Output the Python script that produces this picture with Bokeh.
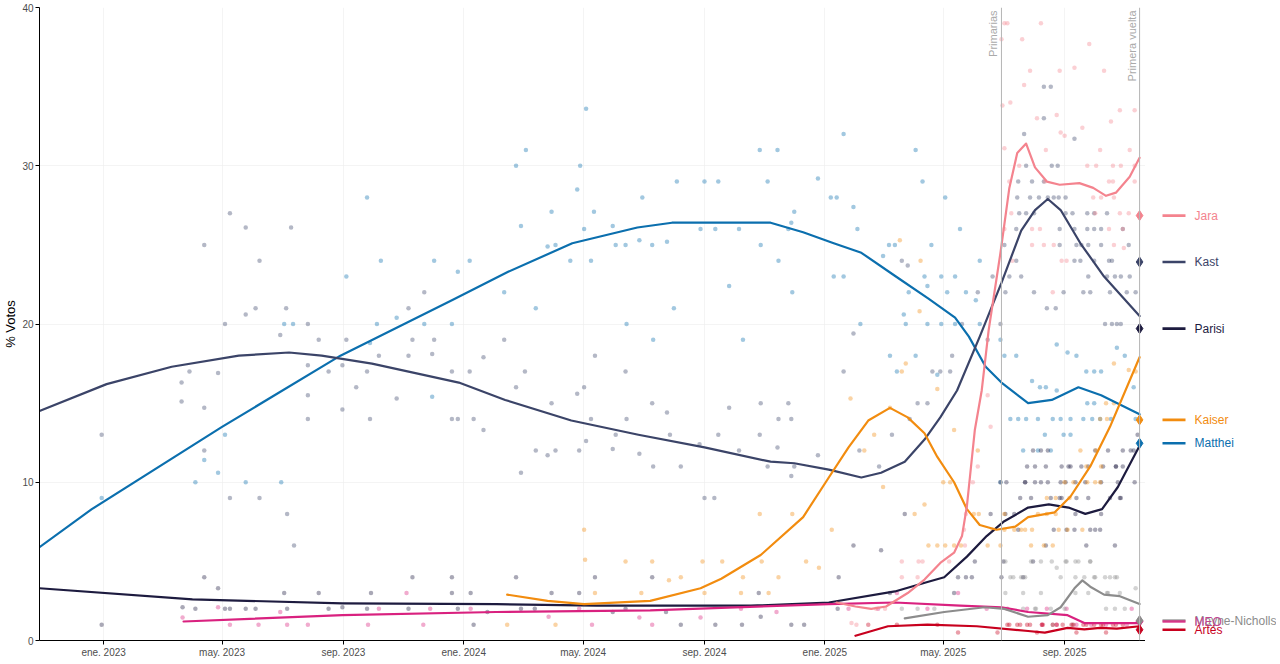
import pandas as pd
from math import pi
from bokeh.plotting import figure
from bokeh.layouts import row
from bokeh.models import Range1d, FixedTicker, Span, Label, ColumnDataSource
from bokeh.embed import file_html
from bokeh.resources import INLINE
from bokeh.core.properties import value

# ---------------- data ----------------
candidates = ["Jara", "Kast", "Parisi", "Kaiser", "Matthei", "Mayne-Nicholls", "MEO", "Artés"]
colors = {"Jara": "#F4838E", "Kast": "#3B4468", "Parisi": "#1D1B3F", "Kaiser": "#F28C0F",
          "Matthei": "#0B6FAE", "MEO": "#D9217F", "Mayne-Nicholls": "#8C8C8C", "Artés": "#C8001E"}
label_colors = {"Jara": "#F4838E", "Kast": "#3B4468", "Parisi": "#1D1B3F", "Kaiser": "#F28C0F",
                "Matthei": "#0B6FAE", "MEO": "#C0468F", "Mayne-Nicholls": "#8C8C8C", "Artés": "#C8001E"}
election_date = "2025-11-16"
primaries_date = "2025-06-29"
results = {"Jara": 26.85, "Kast": 23.92, "Parisi": 19.71, "Kaiser": 13.94, "Matthei": 12.46,
           "Mayne-Nicholls": 1.26, "MEO": 1.20, "Artés": 0.68}

tick_dates = ["2023-01-01", "2023-05-01", "2023-09-01", "2024-01-01", "2024-05-01",
              "2024-09-01", "2025-01-01", "2025-05-01", "2025-09-01"]
tick_labels = ["ene. 2023", "may. 2023", "sep. 2023", "ene. 2024", "may. 2024",
               "sep. 2024", "ene. 2025", "may. 2025", "sep. 2025"]
y_ticks = [0, 10, 20, 30, 40]

# trend lines
matthei_trend_dates = ["2022-10-28", "2022-12-20", "2023-05-01", "2023-08-29", "2023-12-20", "2024-02-15",
                       "2024-04-20", "2024-06-25", "2024-07-30", "2024-10-05", "2024-11-07", "2024-12-10",
                       "2025-01-10", "2025-02-07", "2025-03-14", "2025-04-16", "2025-05-13", "2025-05-27",
                       "2025-06-13", "2025-06-29", "2025-07-26", "2025-08-19", "2025-09-15", "2025-10-08",
                       "2025-11-16"]
matthei_trend_vals = [5.9, 8.3, 13.5, 18.0, 21.5, 23.3, 25.1, 26.1, 26.4, 26.4, 26.4, 25.8, 25.1, 24.5, 23.0,
                      21.6, 20.4, 19.2, 17.3, 16.3, 15.0, 15.2, 16.0, 15.5, 14.3]
kast_trend_dates = ["2022-10-28", "2023-01-04", "2023-03-11", "2023-05-18", "2023-07-08", "2023-08-10",
                    "2023-09-30", "2023-11-20", "2023-12-27", "2024-02-12", "2024-04-19", "2024-06-26",
                    "2024-09-01", "2024-11-07", "2024-12-01", "2025-01-05", "2025-02-07", "2025-02-27",
                    "2025-03-23", "2025-04-12", "2025-04-28", "2025-05-15", "2025-06-07", "2025-06-29",
                    "2025-07-19", "2025-08-02", "2025-08-15", "2025-08-28", "2025-09-17", "2025-10-11",
                    "2025-11-16"]
kast_trend_vals = [14.5, 16.2, 17.3, 18.0, 18.2, 18.0, 17.5, 16.8, 16.3, 15.2, 13.9, 13.0, 12.2, 11.3, 11.2,
                   10.8, 10.3, 10.6, 11.3, 12.7, 14.1, 15.8, 19.2, 22.6, 25.9, 27.2, 27.9, 27.2, 25.1, 23.0,
                   20.5]
parisi_trend_dates = ["2022-10-28", "2023-04-01", "2023-08-31", "2024-02-03", "2024-05-15", "2024-10-18",
                      "2025-01-05", "2025-03-13", "2025-04-15", "2025-05-02", "2025-05-25", "2025-06-14",
                      "2025-07-01", "2025-07-26", "2025-08-16", "2025-09-05", "2025-09-22", "2025-10-09",
                      "2025-10-25", "2025-11-16"]
parisi_trend_vals = [3.3, 2.6, 2.35, 2.3, 2.2, 2.2, 2.4, 3.1, 3.7, 4.0, 5.3, 6.6, 7.5, 8.4, 8.6, 8.4, 8.0,
                     8.3, 9.7, 12.3]
kaiser_trend_dates = ["2024-02-14", "2024-03-26", "2024-05-02", "2024-07-08", "2024-08-28", "2024-09-18",
                      "2024-10-28", "2024-12-10", "2025-01-05", "2025-01-25", "2025-02-14", "2025-03-08",
                      "2025-03-26", "2025-04-12", "2025-04-25", "2025-05-12", "2025-05-25", "2025-06-07",
                      "2025-06-24", "2025-07-13", "2025-07-26", "2025-08-22", "2025-09-07", "2025-09-27",
                      "2025-10-17", "2025-11-16"]
kaiser_trend_vals = [2.9, 2.5, 2.3, 2.5, 3.3, 3.9, 5.4, 7.8, 10.3, 12.2, 13.9, 14.7, 14.1, 13.1, 11.6, 10.0,
                     8.3, 7.3, 7.0, 7.2, 7.8, 8.1, 9.1, 11.0, 13.5, 17.9]
jara_trend_dates = ["2025-01-13", "2025-02-01", "2025-02-17", "2025-03-04", "2025-03-26", "2025-04-12",
                    "2025-04-28", "2025-05-12", "2025-05-20", "2025-05-25", "2025-05-28", "2025-06-02",
                    "2025-06-09", "2025-06-16", "2025-06-28", "2025-07-07", "2025-07-15", "2025-07-24",
                    "2025-08-02", "2025-08-14", "2025-08-27", "2025-09-16", "2025-09-30", "2025-10-13",
                    "2025-10-23", "2025-11-06", "2025-11-16"]
jara_trend_vals = [2.4, 2.15, 2.0, 2.15, 3.0, 3.85, 4.9, 5.55, 6.6, 8.5, 10.3, 13.3, 15.8, 19.6, 24.5, 28.6,
                   30.8, 31.4, 29.9, 29.0, 28.8, 28.9, 28.6, 28.1, 28.3, 29.3, 30.5]
meo_trend_dates = ["2023-03-23", "2023-08-31", "2024-02-03", "2024-07-08", "2025-01-05", "2025-03-13",
                   "2025-05-18", "2025-06-29", "2025-07-26", "2025-09-04", "2025-09-21", "2025-10-24",
                   "2025-11-16"]
meo_trend_vals = [1.2, 1.6, 1.8, 1.9, 2.3, 2.4, 2.2, 2.1, 1.8, 1.6, 1.1, 1.1, 1.1]
mayne_trend_dates = ["2025-03-23", "2025-05-02", "2025-06-12", "2025-07-02", "2025-07-26", "2025-08-15",
                     "2025-08-28", "2025-09-11", "2025-09-19", "2025-09-27", "2025-10-11", "2025-10-27",
                     "2025-11-16"]
mayne_trend_vals = [1.4, 1.8, 2.1, 2.0, 1.5, 1.6, 2.1, 3.3, 3.8, 3.4, 2.9, 2.8, 2.3]
artes_trend_dates = ["2025-02-01", "2025-03-06", "2025-04-15", "2025-06-04", "2025-07-26", "2025-08-12",
                     "2025-09-04", "2025-09-21", "2025-10-07", "2025-10-24", "2025-11-16"]
artes_trend_vals = [0.3, 0.9, 1.0, 0.9, 0.6, 0.5, 0.8, 0.7, 0.8, 0.75, 0.9]

# individual polls
matthei_poll_dates = ["2022-12-30", "2023-04-04", "2023-04-13", "2023-04-27", "2023-05-04", "2023-05-25",
    "2023-06-30", "2023-07-03", "2023-07-12", "2023-09-04", "2023-09-25", "2023-09-28", "2023-10-05",
    "2023-10-09", "2023-10-25", "2023-11-22", "2023-11-30", "2023-12-02", "2023-12-20", "2023-12-26",
    "2024-01-07", "2024-02-11", "2024-02-23", "2024-02-28", "2024-03-04", "2024-03-14", "2024-03-26",
    "2024-03-30", "2024-04-03", "2024-04-18", "2024-04-25", "2024-04-28", "2024-05-02", "2024-05-04",
    "2024-05-09", "2024-05-12", "2024-05-31", "2024-06-03", "2024-06-13", "2024-06-14", "2024-06-27",
    "2024-06-30", "2024-07-10", "2024-07-11", "2024-07-25", "2024-08-01", "2024-08-04", "2024-08-28",
    "2024-09-01", "2024-09-12", "2024-09-15", "2024-09-26", "2024-10-06", "2024-10-10", "2024-10-27",
    "2024-10-28", "2024-11-04", "2024-11-14", "2024-11-15", "2024-11-25", "2024-11-28", "2024-11-29",
    "2024-12-01", "2024-12-25", "2025-01-07", "2025-01-10", "2025-01-13", "2025-01-20", "2025-01-20",
    "2025-01-30", "2025-02-03", "2025-02-06", "2025-03-01", "2025-03-07", "2025-03-08", "2025-03-13",
    "2025-03-15", "2025-03-22", "2025-03-24", "2025-03-27", "2025-04-03", "2025-04-03", "2025-04-10",
    "2025-04-12", "2025-04-15", "2025-04-15", "2025-04-19", "2025-04-25", "2025-04-29", "2025-04-29",
    "2025-05-03", "2025-05-05", "2025-05-13", "2025-05-13", "2025-05-18", "2025-05-24", "2025-06-03",
    "2025-06-07", "2025-06-07", "2025-06-28", "2025-06-28", "2025-07-02", "2025-07-08", "2025-07-14",
    "2025-07-16", "2025-07-21", "2025-07-24", "2025-07-30", "2025-08-05", "2025-08-05", "2025-08-07",
    "2025-08-12", "2025-08-13", "2025-08-18", "2025-08-20", "2025-08-24", "2025-08-24", "2025-08-28",
    "2025-08-31", "2025-09-04", "2025-09-07", "2025-09-07", "2025-09-13", "2025-09-20", "2025-09-23",
    "2025-09-24", "2025-09-29", "2025-10-01", "2025-10-01", "2025-10-07", "2025-10-08", "2025-10-18",
    "2025-10-24", "2025-11-01", "2025-11-10", "2025-11-12"]
matthei_poll_vals = [9.0, 10.0, 11.4, 10.6, 13.0, 10.0,
    10.0, 20.0, 20.0, 23.0, 28.0, 18.8, 20.0,
    24.0, 20.4, 20.0, 15.4, 24.0, 20.0, 23.3,
    24.0, 22.0, 30.0, 26.2, 31.0, 21.0, 24.9,
    27.1, 25.0, 24.0, 28.5, 30.0, 26.0, 33.6,
    24.0, 27.1, 26.2, 25.0, 25.0, 20.0, 25.3,
    28.0, 25.0, 19.0, 25.2, 21.0, 29.0, 26.0,
    29.0, 26.0, 29.0, 22.4, 26.0, 19.0, 31.0,
    25.0, 29.0, 31.0, 24.0, 26.0, 26.4, 22.0,
    27.1, 29.2, 28.0, 23.0, 28.0, 32.0, 23.0,
    27.4, 26.0, 20.0, 24.3, 25.0, 18.0, 25.0,
    17.0, 20.6, 20.0, 22.0, 18.0, 31.0, 29.0,
    23.0, 22.4, 20.0, 25.0, 16.8, 23.0, 20.0,
    28.0, 22.0, 23.0, 20.0, 26.0, 22.0, 21.5,
    24.0, 20.0, 19.0, 10.0, 18.0, 14.0, 18.0,
    14.0, 12.0, 14.0, 16.4, 14.0, 12.0, 16.0,
    13.0, 16.0, 12.0, 14.0, 18.7, 15.8, 14.0,
    13.0, 18.2, 14.0, 13.0, 18.0, 14.0, 17.0,
    15.0, 14.0, 17.0, 15.0, 14.0, 17.0, 14.0,
    18.5, 18.0, 16.0, 14.0]

kast_poll_dates = ["2022-12-30", "2023-03-21", "2023-03-21", "2023-03-29", "2023-04-13", "2023-04-13",
    "2023-04-13", "2023-04-27", "2023-05-04", "2023-05-09", "2023-05-09", "2023-05-25", "2023-05-25",
    "2023-06-04", "2023-06-08", "2023-06-08", "2023-06-29", "2023-07-05", "2023-07-06", "2023-07-10",
    "2023-07-13", "2023-07-27", "2023-07-27", "2023-07-27", "2023-07-27", "2023-08-07", "2023-08-17",
    "2023-08-31", "2023-08-31", "2023-09-04", "2023-09-14", "2023-09-25", "2023-09-28", "2023-10-07",
    "2023-10-25", "2023-11-06", "2023-11-06", "2023-11-10", "2023-11-22", "2023-11-30", "2023-12-02",
    "2023-12-20", "2023-12-20", "2023-12-26", "2024-01-07", "2024-01-11", "2024-01-21", "2024-01-21",
    "2024-02-11", "2024-02-23", "2024-02-28", "2024-03-03", "2024-03-14", "2024-03-26", "2024-03-30",
    "2024-04-03", "2024-04-25", "2024-04-27", "2024-05-02", "2024-05-04", "2024-05-09", "2024-05-13",
    "2024-05-31", "2024-06-03", "2024-06-13", "2024-06-14", "2024-06-27", "2024-07-10", "2024-07-11",
    "2024-07-25", "2024-07-28", "2024-08-08", "2024-08-27", "2024-09-01", "2024-09-11", "2024-09-15",
    "2024-09-26", "2024-10-06", "2024-10-27", "2024-10-28", "2024-11-04", "2024-11-14", "2024-11-15",
    "2024-11-25", "2024-11-28", "2024-11-28", "2024-12-01", "2024-12-25", "2025-01-20", "2025-01-30",
    "2025-02-05", "2025-02-25", "2025-03-10", "2025-03-20", "2025-03-26", "2025-03-28", "2025-04-05",
    "2025-04-15", "2025-04-20", "2025-04-28", "2025-05-08", "2025-05-10", "2025-05-20", "2025-06-05",
    "2025-06-15", "2025-06-20", "2025-06-28", "2025-07-02", "2025-07-03", "2025-07-07", "2025-07-14",
    "2025-07-14", "2025-07-15", "2025-07-16", "2025-07-17", "2025-07-19", "2025-07-22", "2025-07-24",
    "2025-07-24", "2025-07-28", "2025-07-30", "2025-08-01", "2025-08-01", "2025-08-06", "2025-08-11",
    "2025-08-11", "2025-08-11", "2025-08-14", "2025-08-15", "2025-08-18", "2025-08-19", "2025-08-21",
    "2025-08-23", "2025-08-25", "2025-08-26", "2025-08-27", "2025-08-27", "2025-08-31", "2025-09-02",
    "2025-09-02", "2025-09-09", "2025-09-11", "2025-09-11", "2025-09-11", "2025-09-13", "2025-09-17",
    "2025-09-18", "2025-09-20", "2025-09-24", "2025-09-24", "2025-09-25", "2025-09-25", "2025-09-27",
    "2025-10-01", "2025-10-01", "2025-10-01", "2025-10-08", "2025-10-08", "2025-10-12", "2025-10-14",
    "2025-10-14", "2025-10-16", "2025-10-17", "2025-10-19", "2025-10-19", "2025-10-22", "2025-10-24",
    "2025-10-28", "2025-10-28", "2025-10-30", "2025-11-03", "2025-11-05", "2025-11-06", "2025-11-12"]
kast_poll_vals = [13.0, 16.3, 15.1, 17.0, 25.0, 14.7,
    12.0, 16.9, 20.0, 27.0, 9.0, 26.1, 20.6,
    21.0, 24.0, 9.0, 19.3, 21.0, 8.0, 26.1,
    6.0, 20.0, 17.4, 15.5, 14.0, 19.0, 17.0,
    17.4, 14.6, 19.0, 16.0, 17.0, 14.0, 18.0,
    15.3, 18.0, 21.0, 19.0, 22.0, 18.1, 19.0,
    17.0, 14.0, 14.0, 17.0, 14.0, 17.9, 13.3,
    19.0, 16.0, 10.6, 17.0, 12.0, 11.7, 15.0,
    12.0, 15.6, 12.0, 16.0, 12.6, 14.0, 18.0,
    12.1, 13.0, 17.0, 14.0, 11.8, 15.0, 11.0,
    14.4, 13.0, 11.0, 12.4, 9.0, 9.0, 13.0,
    14.7, 12.0, 13.0, 15.0, 11.0, 12.2, 14.0,
    15.0, 14.0, 10.4, 11.0, 11.7, 17.0, 19.4,
    12.0, 11.0, 13.0, 24.0, 23.7, 14.0, 15.0,
    15.0, 17.0, 17.0, 17.0, 18.0, 20.0, 22.0,
    19.0, 23.0, 20.0, 25.0, 22.0, 23.0, 26.0,
    24.0, 28.0, 29.0, 27.0, 23.0, 32.0, 30.0,
    27.0, 28.0, 29.0, 27.0, 22.0, 28.0, 33.0,
    35.0, 29.0, 21.0, 28.0, 35.0, 30.0, 28.0,
    21.0, 30.0, 28.0, 26.0, 25.0, 22.0, 28.0,
    27.0, 27.0, 31.7, 26.0, 24.0, 25.0, 24.0,
    25.0, 22.0, 27.0, 26.0, 25.0, 23.0, 22.0,
    27.0, 26.0, 24.0, 26.0, 25.0, 20.0, 27.0,
    23.0, 24.0, 22.0, 24.0, 20.0, 23.0, 20.0,
    23.0, 20.0, 26.0, 22.0, 25.0, 23.0, 22.0]

parisi_poll_dates = ["2022-12-30", "2023-03-22", "2023-04-04", "2023-04-13", "2023-04-27", "2023-05-04",
    "2023-05-09", "2023-05-25", "2023-06-04", "2023-07-03", "2023-07-06", "2023-08-07", "2023-08-17",
    "2023-08-31", "2023-09-25", "2023-09-29", "2023-11-06", "2023-11-10", "2023-12-20", "2023-12-20",
    "2023-12-26", "2024-01-08", "2024-01-11", "2024-01-25", "2024-02-23", "2024-02-28", "2024-03-13",
    "2024-03-30", "2024-04-27", "2024-05-13", "2024-05-31", "2024-06-13", "2024-07-10", "2024-07-24",
    "2024-08-08", "2024-09-12", "2024-10-09", "2024-10-26", "2024-10-28", "2024-11-28", "2024-12-11",
    "2025-01-14", "2025-01-15", "2025-01-30", "2025-02-27", "2025-03-08", "2025-03-23", "2025-05-12",
    "2025-05-16", "2025-05-24", "2025-05-30", "2025-06-02", "2025-06-18", "2025-06-29", "2025-07-01",
    "2025-07-03", "2025-07-12", "2025-07-21", "2025-07-23", "2025-07-31", "2025-08-02", "2025-08-08",
    "2025-08-18", "2025-08-27", "2025-08-28", "2025-09-05", "2025-09-11", "2025-09-18", "2025-09-25",
    "2025-09-27", "2025-10-07", "2025-10-10", "2025-10-17", "2025-10-23", "2025-10-27", "2025-10-30",
    "2025-11-10", "2025-11-14",
    "2025-07-31", "2025-08-08", "2025-08-15", "2025-10-02", "2025-10-15", "2025-10-30", "2025-11-07",
    "2025-07-25", "2025-08-02", "2025-08-13", "2025-08-29", "2025-09-07", "2025-09-25", "2025-10-23",
    "2025-06-28", "2025-07-04", "2025-07-23", "2025-08-15", "2025-09-02", "2025-09-12", "2025-09-22",
    "2025-10-08", "2025-10-25", "2025-11-11", "2025-07-18", "2025-07-29", "2025-08-29", "2025-09-13",
    "2025-10-28", "2025-09-12", "2025-10-08", "2025-07-16", "2025-08-21", "2025-09-03", "2025-10-02",
    "2025-08-13", "2025-09-23", "2025-10-22"]
parisi_poll_vals = [1.0, 2.1, 2.0, 4.0, 3.3, 2.0,
    2.0, 2.0, 2.0, 3.0, 2.0, 3.0, 2.0,
    2.1, 2.0, 3.0, 2.0, 4.0, 4.0, 3.0,
    2.0, 3.0, 1.0, 1.8, 4.0, 2.0, 2.0,
    3.0, 3.0, 4.0, 1.8, 2.0, 4.0, 1.8,
    1.0, 1.0, 1.0, 3.0, 1.5, 1.0, 1.0,
    2.0, 4.0, 6.0, 5.7, 3.0, 8.0, 3.0,
    4.0, 4.0, 4.0, 5.0, 8.0, 4.0, 5.0,
    8.0, 8.0, 4.0, 10.0, 5.0, 10.0, 10.0,
    9.0, 9.0, 10.0, 11.0, 7.0, 11.0, 9.0,
    7.0, 7.0, 11.0, 9.0, 11.0, 9.0, 11.0,
    12.0, 13.0,
    12.0, 12.0, 12.0, 12.0, 12.0, 12.0, 12.0,
    11.0, 11.0, 11.0, 11.0, 11.0, 11.0, 11.0,
    10.0, 10.0, 10.0, 10.0, 10.0, 10.0, 10.0,
    10.0, 10.0, 10.0, 9.0, 9.0, 9.0, 9.0,
    9.0, 8.0, 8.0, 7.0, 7.0, 7.0, 7.0,
    6.0, 6.0, 6.0]

kaiser_poll_dates = ["2024-02-14", "2024-04-03", "2024-05-02", "2024-05-03", "2024-05-13", "2024-06-13",
    "2024-06-29", "2024-07-10", "2024-07-27", "2024-08-08", "2024-08-30", "2024-09-01", "2024-09-19",
    "2024-10-08", "2024-10-10", "2024-10-27", "2024-10-29", "2024-11-05", "2024-11-15", "2024-11-29",
    "2024-12-13", "2024-12-26", "2025-01-08", "2025-01-27", "2025-02-10", "2025-02-20", "2025-03-01",
    "2025-03-08", "2025-03-18", "2025-03-20", "2025-03-24", "2025-04-02", "2025-04-07", "2025-04-08",
    "2025-04-12", "2025-04-16", "2025-04-25", "2025-04-25", "2025-05-01", "2025-05-03", "2025-05-08",
    "2025-05-12", "2025-05-12", "2025-05-19", "2025-06-01", "2025-06-05", "2025-06-06", "2025-06-15",
    "2025-06-20", "2025-06-28", "2025-07-02", "2025-07-02", "2025-07-12", "2025-07-19", "2025-07-23",
    "2025-07-29", "2025-07-30", "2025-08-05", "2025-08-11", "2025-08-14", "2025-08-14", "2025-08-20",
    "2025-08-23", "2025-08-23", "2025-08-26", "2025-09-01", "2025-09-04", "2025-09-06", "2025-09-10",
    "2025-09-17", "2025-09-19", "2025-09-23", "2025-09-24", "2025-10-02", "2025-10-03", "2025-10-07",
    "2025-10-07", "2025-10-08", "2025-10-13", "2025-10-14", "2025-10-21", "2025-10-21", "2025-11-05",
    "2025-11-12"]
kaiser_poll_vals = [1.0, 1.0, 7.0, 5.1, 3.0, 5.0,
    3.0, 5.0, 3.8, 4.0, 5.0, 3.0, 5.0,
    3.0, 4.0, 8.0, 5.0, 3.0, 4.0, 8.0,
    5.0, 4.6, 7.0, 15.3, 12.0, 13.0, 9.7,
    14.7, 25.3, 17.0, 17.5, 8.0, 20.8, 24.0,
    8.6, 6.0, 15.9, 6.0, 10.0, 6.0, 10.0,
    13.3, 6.0, 6.0, 8.0, 12.0, 8.0, 6.0,
    7.0, 6.0, 7.0, 8.0, 7.0, 7.0, 7.0,
    6.0, 7.0, 8.0, 6.0, 9.0, 8.0, 6.0,
    9.0, 8.0, 7.0, 10.0, 7.0, 9.0, 10.0,
    12.0, 7.0, 11.0, 10.0, 10.0, 12.0, 10.0,
    14.0, 11.0, 15.0, 14.0, 15.0, 17.5, 17.1,
    17.0]

jara_poll_dates = ["2025-01-28", "2025-02-02", "2025-02-22", "2025-03-03", "2025-03-20", "2025-03-20",
    "2025-04-05", "2025-04-06", "2025-04-10", "2025-05-07", "2025-05-22", "2025-05-23", "2025-05-24",
    "2025-05-31", "2025-06-05", "2025-06-15", "2025-06-18", "2025-06-29", "2025-06-30", "2025-07-02",
    "2025-07-02", "2025-07-02", "2025-07-05", "2025-07-07", "2025-07-08", "2025-07-09", "2025-07-10",
    "2025-07-17", "2025-07-20", "2025-07-22", "2025-07-28", "2025-07-30", "2025-07-30", "2025-08-04",
    "2025-08-07", "2025-08-08", "2025-08-11", "2025-08-12", "2025-08-13", "2025-08-20", "2025-08-21",
    "2025-08-24", "2025-08-27", "2025-08-28", "2025-08-29", "2025-09-01", "2025-09-03", "2025-09-11",
    "2025-09-19", "2025-09-24", "2025-09-26", "2025-09-30", "2025-10-02", "2025-10-03", "2025-10-07",
    "2025-10-08", "2025-10-11", "2025-10-16", "2025-10-16", "2025-10-18", "2025-10-20", "2025-10-20",
    "2025-10-21", "2025-10-21", "2025-10-27", "2025-10-27", "2025-10-28", "2025-10-30", "2025-10-31",
    "2025-11-05", "2025-11-06", "2025-11-11", "2025-11-11", "2025-11-11"]
jara_poll_vals = [1.1, 1.0, 2.0, 2.0, 5.0, 4.0,
    4.0, 5.0, 5.0, 5.0, 7.0, 6.0, 8.0,
    10.0, 11.0, 15.5, 13.5, 38.0, 33.8, 39.0,
    31.1, 26.0, 39.0, 29.0, 34.0, 27.0, 24.0,
    30.0, 38.0, 35.1, 36.0, 26.0, 25.0, 33.0,
    26.0, 39.0, 25.0, 29.0, 31.0, 22.0, 25.0,
    33.2, 36.0, 32.1, 24.0, 31.9, 24.0, 36.2,
    32.4, 30.0, 37.7, 28.0, 27.0, 30.0, 31.0,
    28.0, 36.0, 29.0, 26.0, 32.8, 30.0, 29.0,
    28.0, 25.0, 33.5, 27.0, 30.0, 26.0, 24.8,
    27.0, 31.0, 33.5, 30.0, 29.0]

meo_poll_dates = ["2023-03-22", "2023-04-27", "2023-05-09", "2023-06-07", "2023-06-29", "2023-07-06",
    "2023-07-27", "2023-09-26", "2023-10-07", "2023-11-04", "2023-11-21", "2023-11-28", "2024-01-08",
    "2024-03-27", "2024-04-27", "2024-05-10", "2024-06-27", "2024-07-10", "2024-08-28", "2024-10-08",
    "2024-11-13", "2025-01-25", "2025-02-24", "2025-03-15", "2025-04-15", "2025-05-16", "2025-06-14",
    "2025-07-05", "2025-07-25", "2025-08-09", "2025-08-14", "2025-08-24", "2025-09-03", "2025-09-13",
    "2025-09-28", "2025-10-13", "2025-11-03", "2025-11-08"]
meo_poll_vals = [1.45, 2.1, 1.0, 1.0, 1.8, 1.0,
    1.0, 1.0, 2.0, 3.0, 1.0, 2.0, 2.0,
    1.5, 2.0, 1.0, 1.45, 1.0, 1.45, 2.0,
    1.8, 2.0, 2.0, 3.0, 2.0, 3.0, 2.0,
    2.0, 2.0, 1.0, 2.0, 1.0, 2.0, 1.0,
    1.0, 1.0, 1.0, 2.0]

mayne_poll_dates = ["2025-03-20", "2025-04-05", "2025-04-22", "2025-07-08", "2025-07-19", "2025-08-02",
    "2025-08-18", "2025-08-20", "2025-08-24", "2025-09-01", "2025-09-02", "2025-09-09", "2025-09-12",
    "2025-09-21", "2025-09-27", "2025-10-01", "2025-10-14", "2025-10-17", "2025-10-24", "2025-10-27",
    "2025-11-12",
    "2025-07-03", "2025-07-29", "2025-08-08", "2025-08-19", "2025-09-03", "2025-09-15", "2025-09-27",
    "2025-07-11", "2025-07-23", "2025-08-28", "2025-09-12", "2025-10-02", "2025-10-12", "2025-10-22",
    "2025-07-03", "2025-07-21", "2025-08-08", "2025-09-12", "2025-09-25", "2025-10-15",
    "2025-07-21", "2025-08-03", "2025-10-13", "2025-10-22", "2025-11-01"]
mayne_poll_vals = [2.0, 2.0, 2.0, 4.0, 4.0, 2.0,
    2.0, 1.0, 4.6, 2.0, 5.0, 1.0, 5.0,
    4.0, 5.0, 4.0, 3.0, 4.0, 4.0, 3.0,
    3.3,
    5.0, 5.0, 5.0, 5.0, 5.0, 5.0, 5.0,
    4.0, 4.0, 4.0, 4.0, 4.0, 4.0, 4.0,
    3.0, 3.0, 3.0, 3.0, 3.0, 3.0,
    2.0, 2.0, 2.0, 2.0, 2.0]

artes_poll_dates = ["2025-02-14", "2025-03-15", "2025-04-25", "2025-05-16", "2025-06-25", "2025-07-05",
    "2025-07-15", "2025-07-25", "2025-08-04", "2025-08-09", "2025-08-24", "2025-09-08", "2025-09-13",
    "2025-09-23", "2025-10-08", "2025-10-13", "2025-10-23",
    "2025-07-07", "2025-07-18", "2025-07-28", "2025-08-10", "2025-08-20", "2025-08-30", "2025-09-10",
    "2025-09-20", "2025-10-01", "2025-10-10", "2025-10-20", "2025-10-30"]
artes_poll_vals = [1.0, 1.0, 1.0, 0.5, 0.5, 1.0,
    1.0, 1.0, 0.5, 1.0, 1.0, 1.0, 0.5,
    1.0, 1.0, 0.5, 1.0,
    1.0, 1.0, 1.0, 1.0, 1.0, 1.0, 1.0,
    1.0, 1.0, 1.0, 1.0, 1.0]

trends = {"Matthei": (matthei_trend_dates, matthei_trend_vals), "Kast": (kast_trend_dates, kast_trend_vals),
          "Parisi": (parisi_trend_dates, parisi_trend_vals), "Kaiser": (kaiser_trend_dates, kaiser_trend_vals),
          "MEO": (meo_trend_dates, meo_trend_vals), "Mayne-Nicholls": (mayne_trend_dates, mayne_trend_vals),
          "Artés": (artes_trend_dates, artes_trend_vals), "Jara": (jara_trend_dates, jara_trend_vals)}
polls = {"Matthei": (matthei_poll_dates, matthei_poll_vals), "Kast": (kast_poll_dates, kast_poll_vals),
         "Parisi": (parisi_poll_dates, parisi_poll_vals), "Kaiser": (kaiser_poll_dates, kaiser_poll_vals),
         "MEO": (meo_poll_dates, meo_poll_vals), "Mayne-Nicholls": (mayne_poll_dates, mayne_poll_vals),
         "Artés": (artes_poll_dates, artes_poll_vals), "Jara": (jara_poll_dates, jara_poll_vals)}

# ---------------- figure ----------------
FONT = "Liberation Sans"
H = 660
TOP, BOTTOM = 7, 16

p = figure(width=1145, height=H, x_axis_type="datetime",
           x_range=Range1d(pd.Timestamp("2022-10-28"), pd.Timestamp("2025-11-22")),
           y_range=Range1d(0, 40), output_backend="svg", toolbar_location=None,
           min_border_left=30, min_border_right=0, min_border_top=TOP, min_border_bottom=BOTTOM)
p.outline_line_color = None
p.background_fill_color = "white"

tick_ms = [int(pd.Timestamp(d).timestamp() * 1000) for d in tick_dates]
p.xaxis.ticker = FixedTicker(ticks=tick_ms)
overrides = {}
for t, lab in zip(tick_ms, tick_labels):
    overrides[t] = lab
    overrides[str(t)] = lab
p.xaxis.major_label_overrides = overrides
p.yaxis.ticker = FixedTicker(ticks=y_ticks)
p.yaxis.axis_label = "% Votos"

for ax in (p.xaxis, p.yaxis):
    ax.axis_line_color = "black"
    ax.axis_line_width = 1
    ax.major_tick_line_color = "black"
    ax.major_tick_out = 4
    ax.major_tick_in = 0
    ax.minor_tick_line_color = None
    ax.major_label_text_font = FONT
    ax.major_label_text_font_size = "10px"
    ax.major_label_text_color = "#4d4d4d"
    ax.major_label_standoff = 2
p.xaxis.axis_label_standoff = 0
p.yaxis.axis_label_text_font = FONT
p.yaxis.axis_label_text_font_size = "13px"
p.yaxis.axis_label_text_font_style = "normal"
p.yaxis.axis_label_text_color = "black"
p.yaxis.axis_label_standoff = 1

p.xgrid.grid_line_color = "#ececec"
p.xgrid.grid_line_alpha = 0.6
p.ygrid.grid_line_color = "#ececec"
p.ygrid.grid_line_alpha = 0.6
p.ygrid.ticker = FixedTicker(ticks=[10, 20, 30])

# election markers
for d, txt in ((primaries_date, "Primarias"), (election_date, "Primera vuelta")):
    loc = pd.Timestamp(d)
    p.add_layout(Span(location=loc, dimension="height", line_color="#b5b5b5", line_width=1))
    p.add_layout(Label(x=loc, y=40, text=txt, angle=pi / 2, text_align="right",
                       text_baseline="bottom", x_offset=-2, y_offset=-3,
                       text_color="#aaaaaa", text_font=FONT, text_font_size="11px"))

# poll points
for c in ["Matthei", "Kast", "Parisi", "Kaiser", "MEO", "Mayne-Nicholls", "Artés", "Jara"]:
    d, v = polls[c]
    src = ColumnDataSource(dict(x=pd.to_datetime(d), y=v))
    p.scatter("x", "y", source=src, size=4.5, fill_color=colors[c], fill_alpha=0.38, line_color=None)

# trend lines
for c in ["Matthei", "Kast", "Parisi", "Kaiser", "MEO", "Mayne-Nicholls", "Artés", "Jara"]:
    d, v = trends[c]
    src = ColumnDataSource(dict(x=pd.to_datetime(d), y=v))
    p.line("x", "y", source=src, line_color=colors[c], line_width=2.2, line_join="round", line_cap="round")

# result diamonds
for c in ["Jara", "Kast", "Parisi", "Kaiser", "Matthei", "MEO", "Mayne-Nicholls", "Artés"]:
    p.scatter([pd.Timestamp(election_date)], [results[c]], marker="diamond", size=10,
              fill_color=colors[c], line_color=colors[c])

# ---------------- right-hand labels ----------------
W2 = 131
p2 = figure(width=W2, height=H, x_range=Range1d(0, W2), y_range=p.y_range,
            output_backend="svg", toolbar_location=None,
            min_border_left=0, min_border_right=0, min_border_top=TOP, min_border_bottom=BOTTOM)
p2.outline_line_color = None
p2.grid.visible = False
p2.yaxis.visible = False
p2.xaxis.axis_line_alpha = 0
p2.xaxis.major_tick_line_alpha = 0
p2.xaxis.minor_tick_line_alpha = 0
p2.xaxis.major_tick_out = 4
p2.xaxis.major_label_standoff = 2
p2.xaxis.axis_label_standoff = 0
p2.xaxis.major_label_text_font = FONT
p2.xaxis.major_label_text_font_size = "10px"
p2.xaxis.major_label_text_alpha = 0

for c in ["Jara", "Kast", "Parisi", "Kaiser", "Matthei", "Mayne-Nicholls", "MEO", "Artés"]:
    p2.segment(x0=[17], y0=[results[c]], x1=[40], y1=[results[c]], line_color=colors[c],
               line_width=2.6, line_alpha=0.85 if c in ("MEO", "Mayne-Nicholls") else 1.0)
    p2.text(x=[49], y=[results[c]], text=[c], text_color=label_colors[c], text_font=value(FONT),
            text_font_size="12px", text_baseline="middle", text_align="left")

layout = row(p, p2)
open("out.html", "w").write(file_html(layout, INLINE))
